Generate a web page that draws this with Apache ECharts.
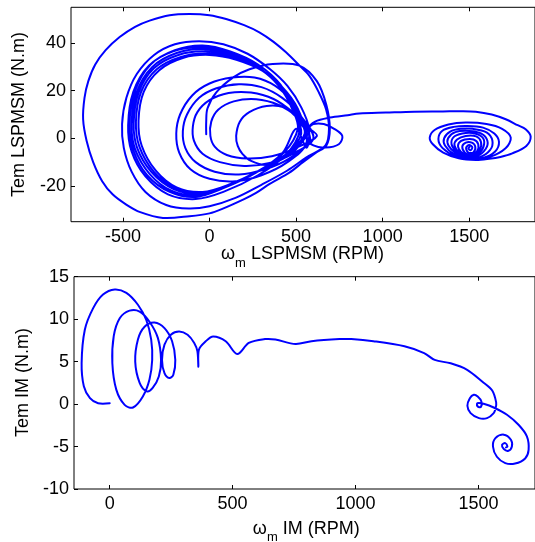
<!DOCTYPE html>
<html><head><meta charset="utf-8">
<script src="https://cdn.jsdelivr.net/npm/echarts@6/dist/echarts.min.js"></script>
<style>html,body{margin:0;padding:0;background:#fff}#c{width:535px;height:542px}</style>
</head><body><div id="c"></div>
<script>
// ---------- Top plot: LSPMSM (speed RPM, torque N.m) ----------
const topXTicks = [-500, 0, 500, 1000, 1500];
const topYTicks = [-20, 0, 20, 40];
const topStart = [[-19,1.7],[-19,7],[-12,12.5],[38,19.2],[135,25.5],[231,29],[365,31.2],[519,30.5],[620,24],[675,14],[695,4],[675,-3]];
const topOuterLoop = [[615,-6],[540,-10],[461,-14.4],[350,-19],[269,-22.9],[200,-25.5],[77,-29.5],[0,-31.5],[-115,-32.7],[-269,-33.4],[-400,-31],[-481,-27.8],[-560,-23.5],[-620,-18],[-672,-10],[-710,-1],[-730,8],[-722,17],[-700,24],[-660,31],[-600,37],[-519,42.5],[-430,46.8],[-346,49.4],[-230,51.7],[-115,52.2],[0,51.7],[96,50.1],[200,47.5],[288,44.5],[370,40.5],[442,36.1],[520,30.5],[577,26.2],[630,19.5],[673,12.2],[690,4],[670,-3]];
const topSecondLoop = [[560,-8],[450,-13.5],[300,-19.5],[150,-25],[0,-28.5],[-120,-29.5],[-250,-28],[-370,-22.5],[-450,-14],[-495,-4],[-505,6],[-480,17],[-420,27],[-320,35],[-200,39.5],[-60,40.8],[80,39.5],[220,35.5],[350,29],[450,22],[530,13],[575,4],[560,-4]];
const topRingA = [[500,4],[423,-6],[269,-14.4],[77,-21],[-80,-24.6],[-230,-22.5],[-360,-15.5],[-440,-5],[-462,6],[-430,20],[-340,31],[-200,37],[-40,39],[120,36.5],[280,31],[410,22.5],[480,12]];
const topRingB = [[520,3],[440,-7],[280,-15.5],[80,-22.5],[-80,-25.5],[-240,-23.5],[-370,-16],[-450,-5.5],[-470,5.5],[-440,19.5],[-350,30.5],[-210,36.5],[-50,38.2],[110,36],[270,30.5],[400,22],[480,12]];
const topRingC = [[510,4],[430,-6],[275,-14],[85,-20.5],[-70,-24],[-220,-22],[-345,-15],[-430,-4.5],[-450,6],[-420,19.5],[-330,30],[-190,35.8],[-35,37.5],[125,35],[285,29.5],[415,21],[485,11.5]];
const topRingD = [[530,2],[445,-6.5],[290,-13.5],[95,-20],[-60,-23.2],[-210,-21.2],[-335,-14.2],[-418,-4],[-438,6.5],[-408,19.5],[-320,29.5],[-180,35],[-25,36.5],[135,34.2],[295,29],[425,20.5],[500,11]];
const topRingE = [[550,2],[455,-6],[300,-13],[100,-19.8],[-50,-22.9],[-200,-21],[-322,-14],[-405,-3.5],[-425,7],[-395,19.5],[-305,29],[-165,34.2],[-10,35.6],[145,33.5],[305,28.5],[435,20],[515,10.5]];
const topRingF = [[560,2],[465,-6],[310,-12.8],[110,-19.5],[-40,-22.5],[-190,-20.6],[-310,-13.6],[-392,-3],[-410,7.5],[-380,19.5],[-290,28.6],[-150,33.8],[0,35],[155,33],[315,28],[445,19.5],[525,10]];
const topInner1 = [[560,-2],[450,-10],[300,-15.5],[150,-18],[0,-17],[-110,-13],[-175,-6],[-192,2],[-170,10],[-100,18],[0,23],[130,25.5],[260,25.5],[380,22],[480,15],[540,7]];
const topInner2 = [[580,-1],[460,-8.5],[320,-13],[170,-15.2],[30,-14],[-80,-10],[-140,-4],[-154,3],[-130,10],[-60,17],[40,21],[170,22.7],[300,21.5],[420,17],[520,10]];
const topInner3 = [[600,0],[480,-6.5],[340,-10.5],[200,-11.6],[60,-10],[-40,-6.5],[-90,-1],[-96,5],[-70,11],[0,16],[110,19],[240,19.2],[370,16.5],[480,11],[560,5]];
const topInner4 = [[620,1],[500,-4],[360,-7.5],[220,-8.5],[100,-7],[30,-3.5],[5,1],[10,7],[50,12],[140,15.5],[270,16.4],[400,14],[510,9],[580,4]];
const topInner5 = [[560,1],[480,-6],[400,-9.5],[327,-11.2],[240,-9.5],[190,-6.5],[163,-3.2],[154,1],[175,7],[230,11],[330,13.6],[430,13],[500,9],[555,4]];
const topSideLoop = [[600,6],[660,6],[720,4],[767,1],[747,-2.5],[670,-3.9],[600,-3],[560,0],[565,3.8],[610,7],[696,8.7]];
const topTail = [[798,9.7],[865,10.4],[1019,10.8],[1182,11.2],[1348,11.3],[1450,11.4],[1538,11.2],[1630,10],[1711,8],[1780,5.5],[1826,3.8],[1855,0.7],[1830,-3.2],[1749,-6.3],[1680,-7.8],[1615,-8.6],[1538,-9.1],[1440,-8.4],[1350,-6],[1290,-2.5],[1272,0.3]];
const topSpiral = [[1300,3.5],[1380,5.8],[1480,6.6],[1600,6],[1690,4],[1740,0.3],[1710,-4.2],[1620,-7.8],[1520,-8.8],[1420,-7.5],[1345,-4],[1322,-0.3],[1345,3.2],[1410,4.8],[1490,5.2],[1580,4.5],[1645,2],[1672,-1.5],[1650,-5.5],[1580,-8.2],[1490,-8.4],[1410,-6.5],[1360,-3],[1355,0],[1390,2.8],[1450,4],[1520,4],[1600,2.5],[1634,-1],[1620,-5],[1560,-7.9],[1480,-8],[1420,-6],[1380,-3],[1378,0],[1420,2.6],[1500,3.1],[1570,2],[1605,-1],[1595,-4.5],[1545,-7.5],[1480,-7.6],[1425,-5.3],[1398,-2.5],[1410,0.5],[1460,2],[1520,2.2],[1575,0.5],[1586,-2.5],[1560,-6],[1500,-7.6],[1445,-6],[1415,-3],[1430,-0.5],[1480,1],[1540,0.8],[1568,-1.5],[1560,-4.8],[1520,-7],[1470,-6.6],[1440,-4.5],[1440,-2],[1475,-0.5],[1525,-0.5],[1552,-2.5],[1545,-5.5],[1510,-7],[1475,-6],[1460,-3.5],[1480,-1.8],[1515,-1.8],[1535,-3.5],[1525,-5.8],[1495,-6],[1482,-4],[1500,-2.8],[1518,-3.8],[1508,-5],[1495,-4.3],[1502,-3.6]];

// ---------- Bottom plot: IM ----------
const botXTicks = [0, 500, 1000, 1500];
const botYTicks = [-10, -5, 0, 5, 10, 15];
const imStartLoops = [[0.4,0.1],[-47,0.1],[-80,0.7],[-105,2.1],[-114,4.8],[-101,8.75],[-67,11.3],[-27,12.9],[20.6,13.5],[68,13.1],[115,11.7],[149,9.9],[169,7.6],[173,5.2],[162,2.9],[135,0.9],[95,-0.4],[61,-0.1],[27,1.7],[11,4.8],[16.6,8],[41,10.1],[81,11],[122,10.9],[162,9.7],[196,7.8],[209,5.2],[200,3.25],[175,1.9],[151,1.5],[122,2.5],[104,5],[115,7.6],[142,9.1],[182,9.6],[223,8.95],[254,7.4],[267,5.2],[259,3.45],[243,3.06],[223,3.65],[213,5.2],[223,7],[250,8.2],[283,8.55],[317,8.16],[344,7.2],[357,6.2],[361,4.4]];
const imPlateau = [[363,6.4],[391,7.4],[421,7.96],[472,7.4],[519,5.9],[566,7.2],[632,7.65],[674,7.6],[756,7.07],[821,7.4],[935,7.65],[983,7.65],[1073,7.4],[1199,6.8],[1279,6.0],[1322,5.2],[1387,4.8],[1454,4.04],[1515,2.66],[1556,1.6],[1572,0.2],[1570,-0.47],[1562,-1.06],[1535,-1.65],[1502,-1.65],[1468,-1.06],[1455,-0.2]];
const imSpirals = [[1465,0.7],[1481,1.1],[1497,0.9],[1512,0.3],[1510,-0.35],[1498,-0.3],[1494,0.05],[1502,0.12],[1521,0.04],[1562,-0.4],[1616,-1.26],[1663,-2.44],[1697,-3.8],[1704,-5.4],[1690,-6.4],[1649,-7.0],[1609,-6.95],[1575,-6.2],[1559,-5.0],[1569,-4.0],[1603,-3.6],[1632,-4.2],[1636,-5.0],[1622,-5.5],[1603,-5.3],[1596,-4.8],[1609,-4.6],[1618,-5.0],[1612,-5.1]];

const topData = [].concat(topStart, topOuterLoop, topSecondLoop, topRingA, topRingB, topRingC, topRingD, topRingE, topRingF, topInner1, topInner2, topInner3, topInner4, topInner5, topSideLoop, topTail, topSpiral);
const botData = [].concat(imStartLoops, imPlateau, imSpirals);

const FONT = '"Liberation Sans", Arial, sans-serif';
const tickStyle = {show:true, inside:true, length:4, lineStyle:{color:'#000', width:1}};
const noLine = {show:false, onZero:false};
function labelStyle(vals, margin){ return {show:true, customValues: vals, fontSize:18, fontFamily:FONT, color:'#000', margin: margin, formatter: v => String(v)}; }

// trajectory drawn as one smooth curve through the data points, positioned by the axes' scales
function trajectory(points, xi, yi){
  return {
    type:'custom', coordinateSystem:'cartesian2d', xAxisIndex:xi, yAxisIndex:yi, data:points, clip:true,
    renderItem: function(params, api){
      if (params.dataIndex !== 0) return null;
      const pts = points.map(p => api.coord(p));
      return {type:'polyline', shape:{points:pts, smooth:0.33}, style:{stroke:'#0000ff', fill:null, lineWidth:2, lineJoin:'round', lineCap:'round'}, silent:true};
    }
  };
}

const chart = echarts.init(document.getElementById('c'), null, {renderer:'canvas'});
chart.setOption({
  animation:false,
  backgroundColor:'#fff',
  grid:[
    {left:71, top:7.3, width:467, height:214.4, show:true, borderColor:'#000', borderWidth:1, backgroundColor:'rgba(0,0,0,0)'},
    {left:74, top:276.7, width:464, height:212.3, show:true, borderColor:'#000', borderWidth:1, backgroundColor:'rgba(0,0,0,0)'}
  ],
  xAxis:[
    {gridIndex:0, type:'value', min:-800, max:1880, axisLine:noLine, splitLine:{show:false}, axisTick:Object.assign({customValues:topXTicks}, tickStyle), axisLabel:labelStyle(topXTicks, 6)},
    {gridIndex:0, type:'value', position:'top', min:-800, max:1880, axisLine:noLine, splitLine:{show:false}, axisTick:Object.assign({customValues:topXTicks}, tickStyle), axisLabel:{show:false}},
    {gridIndex:1, type:'value', min:-145, max:1730, axisLine:noLine, splitLine:{show:false}, axisTick:Object.assign({customValues:botXTicks}, tickStyle), axisLabel:labelStyle(botXTicks, 6)},
    {gridIndex:1, type:'value', position:'top', min:-145, max:1730, axisLine:noLine, splitLine:{show:false}, axisTick:Object.assign({customValues:botXTicks}, tickStyle), axisLabel:{show:false}}
  ],
  yAxis:[
    {gridIndex:0, type:'value', min:-35, max:55, axisLine:noLine, splitLine:{show:false}, axisTick:Object.assign({customValues:topYTicks}, tickStyle), axisLabel:labelStyle(topYTicks, 5)},
    {gridIndex:1, type:'value', min:-10, max:15, axisLine:noLine, splitLine:{show:false}, axisTick:Object.assign({customValues:botYTicks}, tickStyle), axisLabel:labelStyle(botYTicks, 5)}
  ],
  series:[
    trajectory(topData, 0, 0),
    trajectory(botData, 2, 1)
  ],
  graphic:[
    {type:'text', x:19.3, y:114.5, rotation:Math.PI/2, style:{text:'Tem LSPMSM (N.m)', font:'18px '+FONT, fill:'#000', align:'center', verticalAlign:'middle', textAlign:'center', textVerticalAlign:'middle'}},
    {type:'text', x:23, y:382.5, rotation:Math.PI/2, style:{text:'Tem IM (N.m)', font:'18px '+FONT, fill:'#000', align:'center', verticalAlign:'middle', textAlign:'center', textVerticalAlign:'middle'}},
    {type:'text', x:302.5, y:257.5, style:{text:'{a|ω}{s|m}{a| LSPMSM (RPM)}', fill:'#000', align:'center', verticalAlign:'middle', textAlign:'center', textVerticalAlign:'middle',
      rich:{a:{fontSize:18, fontFamily:FONT, lineHeight:24, verticalAlign:'top', fill:'#000'}, s:{fontSize:13, fontFamily:FONT, lineHeight:13, verticalAlign:'bottom', fill:'#000'}}}},
    {type:'text', x:306.3, y:532, style:{text:'{a|ω}{s|m}{a| IM (RPM)}', fill:'#000', align:'center', verticalAlign:'middle', textAlign:'center', textVerticalAlign:'middle',
      rich:{a:{fontSize:18, fontFamily:FONT, lineHeight:24, verticalAlign:'top', fill:'#000'}, s:{fontSize:13, fontFamily:FONT, lineHeight:13, verticalAlign:'bottom', fill:'#000'}}}}
  ]
});
</script></body></html>
